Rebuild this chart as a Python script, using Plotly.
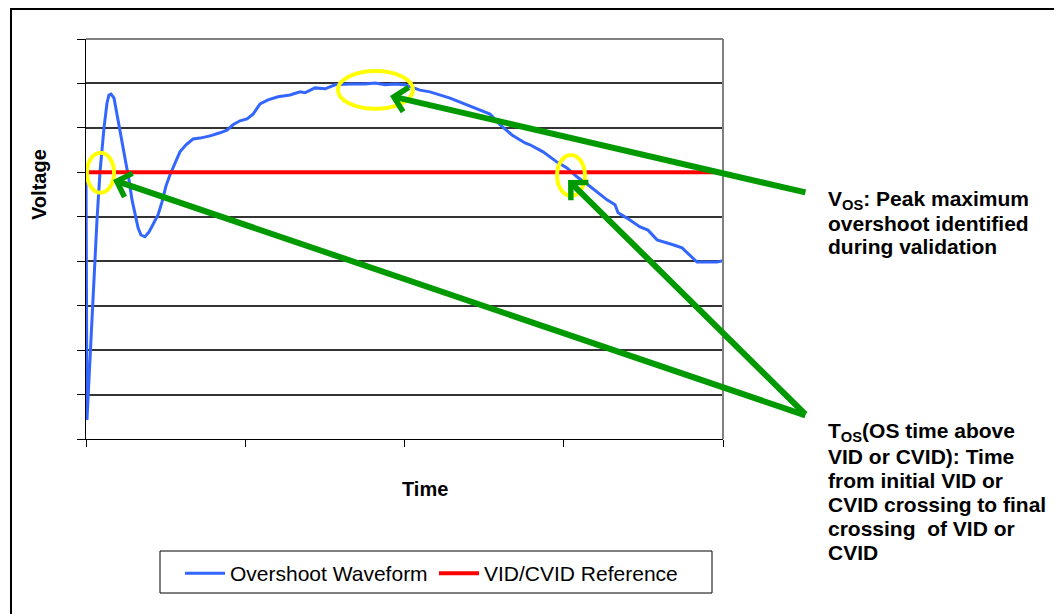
import plotly.graph_objects as go

# waveform samples (time in arbitrary units, voltage in grid divisions)
time = [0.0, 0.6, 6.9, 8.8, 11.3, 13.2, 14.4, 15.7, 17.6, 20.1, 22.6, 25.1, 27.0, 28.9,
        30.8, 32.7, 34.5, 37.0, 39.6, 42.7, 45.2, 47.7, 50.2, 52.7, 55.9, 59.0, 62.8,
        67.2, 71.6, 77.9, 84.1, 88.5, 92.3, 96.7, 101.1, 104.9, 109.3, 114.3, 120.6,
        128.1, 134.4, 137.5, 143.8, 150.1, 156.4, 165.8, 175.2, 181.5, 187.8, 194.0,
        200.3, 204.7, 209.7, 216.0, 222.3, 228.6, 234.9, 241.1, 247.4, 253.7, 260.0,
        267.5, 275.7, 278.8, 287.0, 291.4, 295.8, 302.0, 308.3, 315.2, 320.9, 327.2,
        332.2, 334.1, 339.7, 347.9, 352.9, 358.6, 368.6, 374.3, 383.7, 396.2, 400.0]
voltage = [6.01, 0.43, 4.93, 6.01, 7.00, 7.56, 7.74, 7.76, 7.67, 7.18, 6.73, 6.28, 5.83, 5.38,
           5.04, 4.75, 4.59, 4.55, 4.66, 4.88, 5.04, 5.33, 5.69, 5.94, 6.21, 6.46, 6.62,
           6.75, 6.77, 6.82, 6.89, 6.95, 7.07, 7.16, 7.20, 7.31, 7.54, 7.63, 7.70,
           7.74, 7.81, 7.79, 7.90, 7.88, 7.97, 7.99, 7.99, 8.01, 7.97, 7.99,
           7.97, 7.92, 7.85, 7.81, 7.74, 7.67, 7.58, 7.49, 7.40, 7.31, 7.07,
           6.84, 6.66, 6.62, 6.46, 6.35, 6.23, 6.10, 5.90, 5.72, 5.56, 5.38,
           5.27, 5.09, 4.97, 4.77, 4.70, 4.48, 4.37, 4.30, 3.98, 3.98, 4.01]

ref_time = [0, 400]
ref_voltage = [6, 6]

x_ticks = [0, 100, 200, 300, 400]
y_ticks = [0, 1, 2, 3, 4, 5, 6, 7, 8, 9]

FONT = "Liberation Sans, Arial, sans-serif"
GREEN = "#009A00"

fig = go.Figure()
fig.add_trace(go.Scatter(x=time, y=voltage, mode="lines", name="Overshoot Waveform",
                         line=dict(color="#3366FF", width=3)))
fig.add_trace(go.Scatter(x=ref_time, y=ref_voltage, mode="lines", name="VID/CVID Reference",
                         line=dict(color="#FF0000", width=4)))

# highlight ellipses
ellipses = [(0.6, 17.6, 5.54, 6.44), (158.2, 205.3, 7.43, 8.28), (295.8, 313.3, 5.47, 6.39)]
for x0, x1, y0, y1 in ellipses:
    fig.add_shape(type="circle", xref="x", yref="y", x0=x0, x1=x1, y0=y0, y1=y1,
                  line=dict(color="#FFFF00", width=4))


# helpers: figure pixel -> paper fraction (plot area is 86..723 x 39..439)
def px_x(p):
    return (p - 86) / 637.0


def px_y(p):
    return (439 - p) / 400.0


# plot border (top/right grey), outer frame, legend box
fig.add_shape(type="line", xref="paper", yref="paper", x0=0, x1=1, y0=1, y1=1,
              line=dict(color="#808080", width=2))
fig.add_shape(type="line", xref="paper", yref="paper", x0=1, x1=1, y0=0, y1=1,
              line=dict(color="#808080", width=2))
fig.add_shape(type="rect", xref="paper", yref="paper", x0=px_x(11), x1=1.7, y0=-0.6, y1=px_y(9),
              line=dict(color="black", width=2))
fig.add_shape(type="rect", xref="paper", yref="paper", x0=px_x(160), x1=px_x(712),
              y0=px_y(593), y1=px_y(551), line=dict(color="black", width=1))

# arrows
arrows = [(190.9, 7.72, 452.7, 5.54), (17.0, 5.83, 452.7, 0.52), (302.7, 5.83, 452.7, 0.52)]
for x, y, ax, ay in arrows:
    fig.add_annotation(x=x, y=y, ax=ax, ay=ay, xref="x", yref="y", axref="x", ayref="y",
                       text="", showarrow=True, arrowhead=4, arrowsize=0.8,
                       arrowwidth=6, arrowcolor=GREEN, standoff=0)

# callout texts, one annotation per line
vos_lines = ["V<sub>OS</sub>: Peak maximum", "overshoot identified", "during validation"]
vos_base = [207, 230, 253]
tos_lines = ["T<sub>OS</sub>(OS time above", "VID or CVID): Time", "from initial VID or",
             "CVID crossing to final", "crossing  of VID or", "CVID"]
tos_base = [439, 463, 487, 511, 535, 559]
for txt, b in list(zip(vos_lines, vos_base)) + list(zip(tos_lines, tos_base)):
    fig.add_annotation(x=px_x(826), y=px_y(b - 7), xref="paper", yref="paper",
                       xanchor="left", yanchor="middle", showarrow=False,
                       text="<b>" + txt + "</b>", font=dict(size=21, color="black", family=FONT))

fig.add_annotation(x=px_x(39), y=px_y(185), xref="paper", yref="paper", textangle=-90,
                   xanchor="center", yanchor="middle",
                   showarrow=False, text="<b>Voltage</b>",
                   font=dict(size=20, color="black", family=FONT))
fig.add_annotation(x=px_x(425), y=px_y(489), xref="paper", yref="paper",
                   xanchor="center", yanchor="middle",
                   showarrow=False, text="<b>Time</b>",
                   font=dict(size=20, color="black", family=FONT))

fig.update_xaxes(range=[0, 400], tickvals=x_ticks, showticklabels=False, ticks="outside",
                 ticklen=7, tickcolor="black", tickwidth=1, showline=True, linecolor="black",
                 linewidth=1, showgrid=False, zeroline=False)
fig.update_yaxes(range=[0, 9], tickvals=y_ticks, showticklabels=False, ticks="outside",
                 ticklen=8, tickcolor="black", tickwidth=1, showline=True, linecolor="black",
                 linewidth=1, showgrid=True, gridcolor="#333333", gridwidth=1.5, zeroline=False)

# the page body adds an 8px margin, so the figure is 8px smaller than the window
fig.update_layout(width=1054, height=606, autosize=False,
                  margin=dict(l=78, r=339, t=31, b=175),
                  paper_bgcolor="white", plot_bgcolor="white",
                  font=dict(family=FONT, size=20, color="black"),
                  legend=dict(orientation="h", x=px_x(180), xanchor="left", y=px_y(553), yanchor="top",
                              borderwidth=0, bgcolor="rgba(0,0,0,0)", entrywidth=199, itemwidth=40,
                              font=dict(size=21, family=FONT)),
                  showlegend=True)

fig.write_html("out.html")
